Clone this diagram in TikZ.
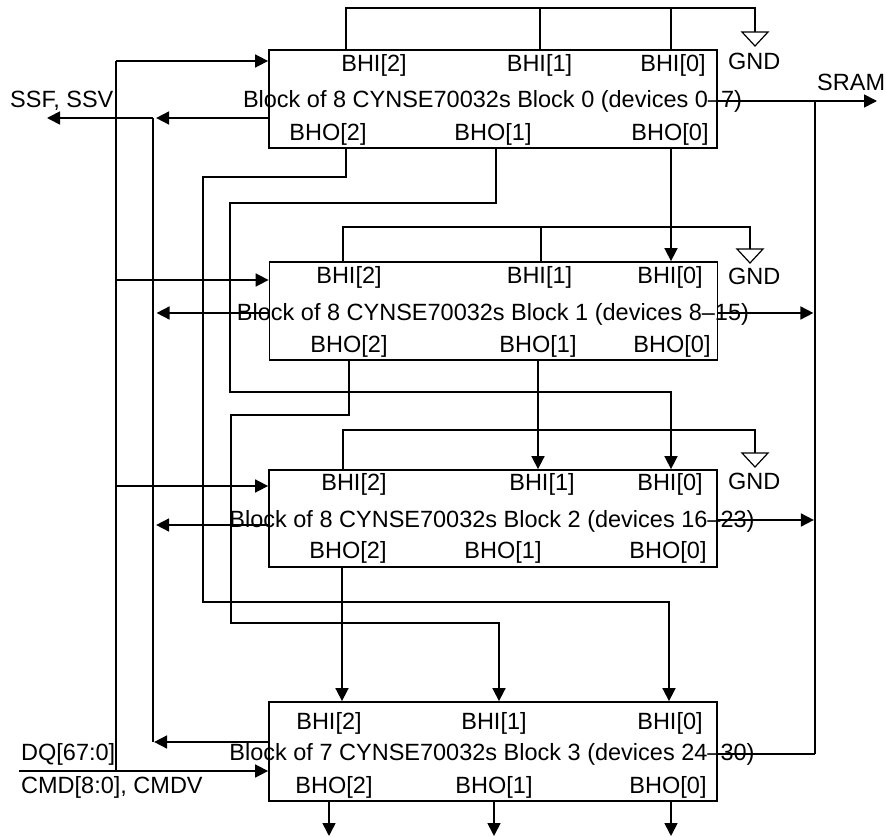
\documentclass[tikz,border=0pt]{standalone}
\usepackage{fontspec}
\setmainfont{Liberation Sans}
\usetikzlibrary{arrows.meta,calc}
\begin{document}
\begin{tikzpicture}[x=1pt,y=-1pt,
  wire/.style={line width=1.7pt},
  arr/.style={wire,-{Triangle[length=13pt,width=13pt]}},
  blockbox/.style={draw,line width=1.8pt,minimum width=448pt,minimum height=98pt,inner sep=0pt},
  lbl/.style={inner sep=0pt,anchor=base,font=\fontsize{23.5}{26}\selectfont},
  lblw/.style={lbl,anchor=base west},
  gndsym/.style={draw,fill=white,line width=1.2pt,line join=miter}
]
\useasboundingbox (0,0) rectangle (886,837);

% ---------------- blocks ----------------
\node[blockbox] (b0) at (493,99) {};
\node[blockbox] (b1) at (493.5,311) {};
\node[blockbox,minimum height=97pt] (b2) at (493,518.5) {};
\node[blockbox,minimum height=99pt] (b3) at (493,751.5) {};

% ---------------- block texts ----------------
\node[lbl] (t0) at (492.5,107.5) {Block of 8 CYNSE70032s Block 0 (devices 0--7)};
\node[lbl] (t1) at (493,320.5) {Block of 8 CYNSE70032s Block 1 (devices 8--15)};
\node[lbl] (t2) at (492,527) {Block of 8 CYNSE70032s Block 2 (devices 16--23)};
\node[lbl] (t3) at (492,760) {Block of 7 CYNSE70032s Block 3 (devices 24--30)};

% port labels block 0
\node[lbl] (b0hi2) at (374,71.5) {BHI[2]};
\node[lbl] (b0hi1) at (539.5,71.5) {BHI[1]};
\node[lbl] (b0hi0) at (673,71.5) {BHI[0]};
\node[lbl] (b0ho2) at (328,140.5) {BHO[2]};
\node[lbl] (b0ho1) at (493,140.5) {BHO[1]};
\node[lbl] (b0ho0) at (670,140.5) {BHO[0]};
% block 1
\node[lbl] (b1hi2) at (349,283.5) {BHI[2]};
\node[lbl] (b1hi1) at (539.5,283.5) {BHI[1]};
\node[lbl] (b1hi0) at (670,283.5) {BHI[0]};
\node[lbl] (b1ho2) at (349,352.5) {BHO[2]};
\node[lbl] (b1ho1) at (538,352.5) {BHO[1]};
\node[lbl] (b1ho0) at (672,352.5) {BHO[0]};
% block 2
\node[lbl] (b2hi2) at (354,490) {BHI[2]};
\node[lbl] (b2hi1) at (542,490) {BHI[1]};
\node[lbl] (b2hi0) at (670,490) {BHI[0]};
\node[lbl] (b2ho2) at (348,558.5) {BHO[2]};
\node[lbl] (b2ho1) at (503,558.5) {BHO[1]};
\node[lbl] (b2ho0) at (668,558.5) {BHO[0]};
% block 3
\node[lbl] (b3hi2) at (329,729.5) {BHI[2]};
\node[lbl] (b3hi1) at (494,729.5) {BHI[1]};
\node[lbl] (b3hi0) at (670,729.5) {BHI[0]};
\node[lbl] (b3ho2) at (334,793) {BHO[2]};
\node[lbl] (b3ho1) at (494,793) {BHO[1]};
\node[lbl] (b3ho0) at (668,793) {BHO[0]};

% outside labels
\node[lblw] (gl0) at (728,69.5) {GND};
\node[lblw] (gl1) at (728,284.5) {GND};
\node[lblw] (gl2) at (728,489.5) {GND};
\node[lblw] (sram) at (817,90.5) {SRAM};
\node[lblw] (ssf) at (10,108) {SSF, SSV};
\node[lblw] (dq) at (21,760.5) {DQ[67:0]};
\node[lblw] (cmd) at (21,793.5) {CMD[8:0], CMDV};

% ---------------- GND ties ----------------
\coordinate (g0) at (755,32);
\coordinate (g1) at (750,249);
\coordinate (g2) at (755,453);
\draw[wire] (346,0 |- b0.north) |- (g0 |- 0,8) -- (g0);
\draw[wire] (540,8) -- (540,0 |- b0.north);
\draw[wire] (671,8) -- (671,0 |- b0.north);
\draw[wire] (343,0 |- b1.north) |- (g1 |- 0,227) -- (g1);
\draw[wire] (541,227) -- (541,0 |- b1.north);
\draw[wire] (343,0 |- b2.north) |- (g2 |- 0,430) -- (g2);
\foreach \g in {g0,g1,g2}{
  \draw[gndsym] ($(\g)+(-13,0)$) -- ($(\g)+(13,0)$) -- ($(\g)+(0,14)$) -- cycle;
}

% ---------------- input bus (DQ / CMD) ----------------
\coordinate (in0) at (116,61);
\coordinate (in1) at (116,280);
\coordinate (in2) at (116,486);
\coordinate (in3) at (116,771);
\coordinate (dqin) at (19,771);
\draw[wire] (in3) -- (in0);
\draw[arr] (in0) -- (in0 -| b0.west);
\draw[arr] (in1) -- (in1 -| b1.west);
\draw[arr] (in2) -- (in2 -| b2.west);
\draw[arr] (dqin) -- (dqin -| b3.west);

% ---------------- SSF/SSV bus ----------------
\coordinate (o0) at (153,118);
\coordinate (o1) at (153,313);
\coordinate (o2) at (153,525);
\coordinate (o3) at (153,742);
\coordinate (ssfout) at (47,118);
\draw[wire] (o0) -- (o3);
\draw[arr] (o0 -| b0.west) -- ++(-112,0);
\draw[arr] (o1 -| b1.west) -- ++(-112,0);
\draw[arr] (o2 -| b2.west) -- ++(-112,0);
\draw[arr] (o3 -| b3.west) -- ++(-114,0);
\draw[arr] (o0) -- (ssfout);

% ---------------- SRAM bus ----------------
\coordinate (s0) at (815,101);
\coordinate (s1) at (815,313);
\coordinate (s2) at (815,520);
\coordinate (s3) at (815,754);
\coordinate (sramout) at (877,101);
\draw[wire] (s0) -- (s3);
\draw[arr] (s0 -| b0.east) -- (sramout);
\draw[arr] (s1 -| b1.east) -- ++(95,0);
\draw[arr] (s2 -| b2.east) -- ++(96,0);
\draw[wire] (s3 -| b3.east) -- (s3);

% ---------------- cascade routing ----------------
% block 0
\draw[arr] (346,0 |- b0.south) -- (346,177) -- (203,177) -- (203,602) -- (669,602) -- (669,0 |- b3.north);
\draw[arr] (496,0 |- b0.south) -- (496,203) -- (230,203) -- (230,392) -- (671,392) -- (671,0 |- b2.north);
\draw[arr] (671,0 |- b0.south) -- (671,0 |- b1.north);
% block 1
\draw[arr] (349,0 |- b1.south) -- (349,415) -- (231,415) -- (231,623) -- (499,623) -- (499,0 |- b3.north);
\draw[arr] (538,0 |- b1.south) -- (538,0 |- b2.north);
% block 2
\draw[arr] (342,0 |- b2.south) -- (342,0 |- b3.north);
% block 3 outputs
\draw[arr] (329,0 |- b3.south) -- (329,836);
\draw[arr] (494,0 |- b3.south) -- (494,836);
\draw[arr] (671,0 |- b3.south) -- (671,836);
\end{tikzpicture}
\end{document}
